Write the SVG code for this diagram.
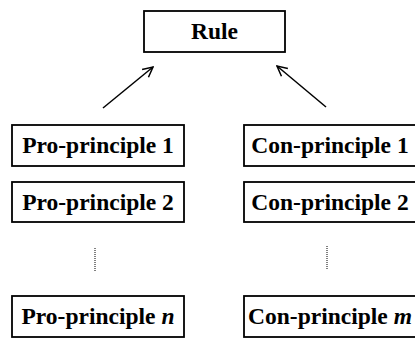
<svg xmlns="http://www.w3.org/2000/svg" width="415" height="338" viewBox="0 0 415 338">
<style>
.box{fill:#fff;stroke:#000;stroke-width:1.8}
.lbl{font-family:"Liberation Serif","Times New Roman",serif;font-weight:bold;font-size:23.5px;fill:#000;text-anchor:middle}
.arr{stroke:#000;stroke-width:1.5;fill:none}
.dot{stroke:#000;stroke-width:1;stroke-dasharray:1 1;fill:none}
</style>
<defs>
<marker id="ah" viewBox="0 0 12 12" refX="11" refY="6" markerWidth="12" markerHeight="12" markerUnits="userSpaceOnUse" orient="auto">
<path d="M1,1 L11,6 L1,11" fill="none" stroke="#000" stroke-width="1.5"/>
</marker>
</defs>
<rect width="415" height="338" fill="#fff"/>
<g id="rule"><rect class="box" x="144" y="11" width="141" height="41"/><text class="lbl" x="214.5" y="39">Rule</text></g>
<g id="pro1"><rect class="box" x="12" y="125" width="172" height="41"/><text class="lbl" x="98" y="153">Pro-principle 1</text></g>
<g id="pro2"><rect class="box" x="12" y="182" width="172" height="40"/><text class="lbl" x="98" y="210">Pro-principle 2</text></g>
<g id="pron"><rect class="box" x="12" y="296" width="172" height="41"/><text class="lbl" x="98" y="324">Pro-principle <tspan font-style="italic">n</tspan></text></g>
<g id="con1"><rect class="box" x="244" y="125" width="180" height="41"/><text class="lbl" x="330" y="153">Con-principle 1</text></g>
<g id="con2"><rect class="box" x="244" y="182" width="180" height="40"/><text class="lbl" x="330" y="210">Con-principle 2</text></g>
<g id="conm"><rect class="box" x="244" y="296" width="180" height="41"/><text class="lbl" x="330" y="324">Con-principle <tspan font-style="italic">m</tspan></text></g>
<g id="connectors">
<line class="arr" x1="103" y1="108" x2="153" y2="67" marker-end="url(#ah)"/>
<line class="arr" x1="326" y1="107" x2="277" y2="66" marker-end="url(#ah)"/>
<line class="dot" x1="95" y1="248" x2="95" y2="272"/>
<line class="dot" x1="327" y1="246" x2="327" y2="270"/>
</g>
</svg>
